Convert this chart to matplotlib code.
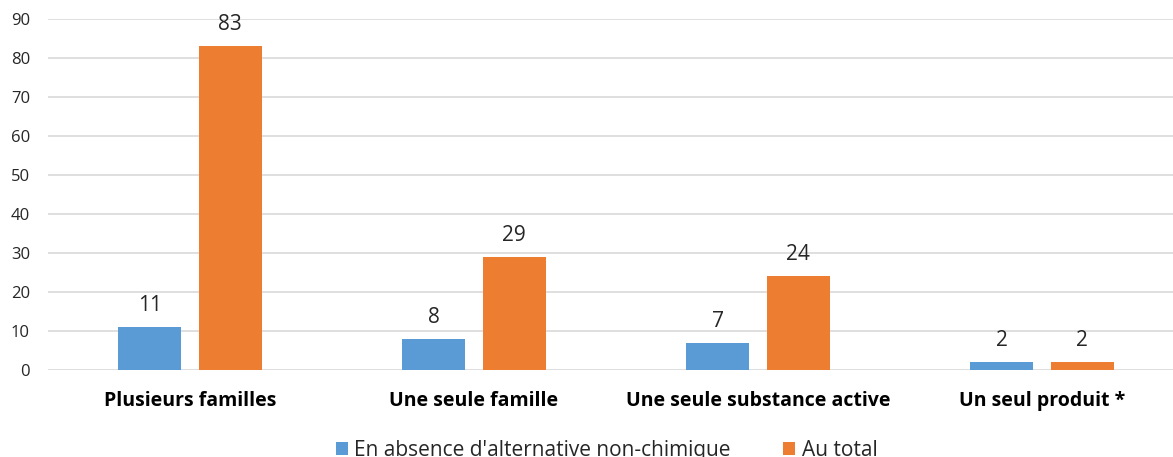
import numpy as np
import matplotlib.pyplot as plt

categories = ["Plusieurs familles", "Une seule famille",
              "Une seule substance active", "Un seul produit *"]
sans_alt = [11, 8, 7, 2]
total = [83, 29, 24, 2]
series_names = ["En absence d'alternative non-chimique", "Au total"]
yticks = [0, 10, 20, 30, 40, 50, 60, 70, 80, 90]

blue = "#5B9BD5"
orange = "#ED7D31"
txt = "#262626"

plt.rcParams['font.family'] = ['Open Sans', 'DejaVu Sans']

fig = plt.figure(figsize=(11.73, 4.57), dpi=100)
ax = fig.add_axes([48/1173, 87/457, 1136/1173, 351/457])

x = np.arange(len(categories))
w = 0.222
off = 0.141
b1 = ax.bar(x - off, sans_alt, w, color=blue, label=series_names[0], zorder=3)
b2 = ax.bar(x + off, total, w, color=orange, label=series_names[1], zorder=3)

# value labels above bars
for bars, vals in ((b1, sans_alt), (b2, total)):
    for r, v in zip(bars, vals):
        ax.annotate(str(v), (r.get_x() + r.get_width()/2, v),
                    xytext=(0, 8), textcoords="offset points",
                    ha="center", va="bottom", fontsize=15, color=txt)

ax.set_xlim(-0.5, 3.5)
ax.set_ylim(0, 90)
ax.set_yticks(yticks)
ax.set_xticks(x)
ax.set_xticklabels(categories, fontsize=14, fontweight="bold", color="black")
ax.tick_params(axis="y", labelsize=12, colors=txt, length=0, pad=13)
ax.tick_params(axis="x", length=0, pad=15)
ax.grid(axis="y", color="#D9D9D9", linewidth=1.2, zorder=0)
for s in ax.spines.values():
    s.set_visible(False)

fig.legend(loc="center", bbox_to_anchor=(0.517, 0.014), ncol=2, frameon=False,
           fontsize=15, handlelength=0.6, handleheight=0.6, handletextpad=0.3,
           columnspacing=2.5, labelcolor=txt)

fig.savefig("out.png", dpi=100)
